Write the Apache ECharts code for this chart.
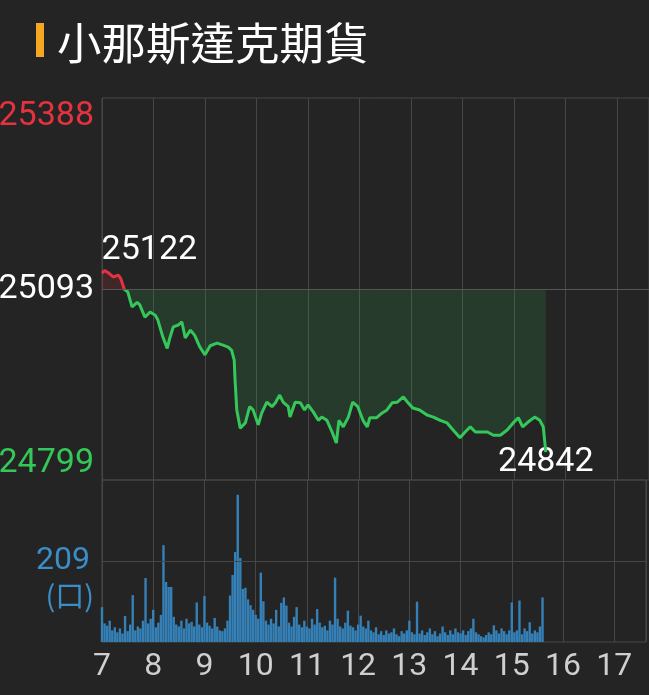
<!DOCTYPE html>
<html><head><meta charset="utf-8">
<script src="https://cdn.jsdelivr.net/npm/echarts@6/dist/echarts.min.js"></script>
<style>html,body{margin:0;padding:0;background:#242424;}#c{width:649px;height:695px;}</style>
</head><body><div id="c"></div><script>
// ---- data ----
const titleText = '小那斯達克期貨';
const prevClose = 25093;
const priceAxisMax = 25388;
const priceAxisMin = 24799;
const volAxisMax = 418;
const volMidLabel = 209;
const volUnit = '(口)';
const hourStart = 7;
const hourEnd = 17.62;
// minutes after 07:00
const priceMinutes = [0,3,8,13,19,22,26,30,35,41,44,50,56,62,65,71,76,79,83,89,93,97,103,108,114,120,126,134,141,147,151,154,155,157,161,163,167,172,176,182,186,192,198,202,207,211,217,219,225,231,236,240,246,252,256,262,268,273,276,281,287,292,298,304,309,312,320,326,332,338,344,351,356,362,370,379,386,394,402,409,417,423,429,435,440,449,456,464,472,479,485,490,496,504,510,514,517];
const prices = [25118,25122,25118,25112,25115,25109,25093,25089,25066,25073,25069,25050,25058,25053,25046,25019,25002,25018,25035,25038,25043,25018,25030,25022,25004,24992,25006,25010,25007,25004,24999,24984,24953,24907,24879,24876,24887,24912,24907,24884,24902,24919,24912,24918,24930,24919,24912,24896,24919,24918,24907,24915,24904,24891,24896,24891,24873,24856,24891,24881,24896,24919,24912,24891,24881,24895,24895,24902,24907,24918,24919,24927,24919,24910,24907,24899,24896,24891,24887,24876,24864,24873,24881,24873,24873,24873,24868,24868,24876,24887,24895,24881,24888,24896,24891,24881,24842];
// volume per 3-minute bucket starting 07:00
const volStepMinutes = 3;
const volumes = [
90,48,42,55,30,38,25,35,22,67,
28,45,121,30,40,35,55,165,48,60,
83,38,50,70,250,155,142,142,65,45,
40,55,35,60,48,52,40,102,45,38,
119,50,42,35,62,40,30,28,35,55,
120,173,232,380,217,137,140,110,95,83,
70,60,179,105,55,45,60,48,83,40,
101,115,94,50,40,65,90,45,38,55,
40,35,60,45,85,50,38,42,30,55,
45,166,60,40,35,50,81,42,38,30,
45,68,40,35,55,30,25,38,20,28,
18,30,22,25,35,20,15,28,22,30,
55,25,20,104,22,30,18,25,35,20,
28,15,22,40,25,18,30,20,35,25,
22,30,18,28,35,60,25,20,15,12,
18,25,20,43,30,22,35,28,20,30,
102,25,30,107,20,35,28,51,22,30,
25,40,115];

// ---- build ----
const priceData = priceMinutes.map((m, i) => [hourStart + m / 60, prices[i]]);
const volData = volumes.map((v, i) => [hourStart + i * volStepMinutes / 60, v]);

const RED = '#e5323f', GREEN = '#34c759', BLUE = '#3a8ec8';
const GRIDC = '#464646';
const numFont = 'Roboto, "Noto Sans", sans-serif';

const chart = echarts.init(document.getElementById('c'), null, {renderer: 'canvas'});
const xAxisBase = {
  type: 'value', min: hourStart, max: hourEnd, interval: 1,
  axisLine: {show: false}, axisTick: {show: false},
  splitLine: {show: true, lineStyle: {color: GRIDC, width: 1}}
};
chart.setOption({
  backgroundColor: '#242424',
  animation: false,
  grid: [
    {left: 102, top: 98, width: 548, height: 382, show: true, borderColor: GRIDC, borderWidth: 1, backgroundColor: 'transparent'},
    {left: 102, top: 480, width: 548, height: 162, show: true, borderColor: GRIDC, borderWidth: 1, backgroundColor: 'transparent'}
  ],
  xAxis: [
    Object.assign({}, xAxisBase, {gridIndex: 0, axisLabel: {show: false}}),
    Object.assign({}, xAxisBase, {gridIndex: 1, axisLabel: {show: true, color: '#cfcfcf', fontSize: 32, fontFamily: numFont, margin: 9,
      formatter: v => Number.isInteger(v) ? String(v) : ''}})
  ],
  yAxis: [
    {type: 'value', gridIndex: 0, min: priceAxisMin, max: priceAxisMax, axisLabel: {show: false}, axisLine: {show: false}, axisTick: {show: false}, splitLine: {show: false}},
    {type: 'value', gridIndex: 1, min: 0, max: volAxisMax, axisLabel: {show: false}, axisLine: {show: false}, axisTick: {show: false}, splitLine: {show: false}}
  ]
});

const px = (x, y) => chart.convertToPixel({xAxisIndex: 0, yAxisIndex: 0}, [x, y]);
const pv = (x, y) => chart.convertToPixel({xAxisIndex: 1, yAxisIndex: 1}, [x, y]);
const yTop = px(hourStart, priceAxisMax)[1];
const yBot = px(hourStart, priceAxisMin)[1];
const yPrev = px(hourStart, prevClose)[1];
const f = (yPrev - yTop) / (yBot - yTop);
const mkGrad = (a, b) => new echarts.graphic.LinearGradient(0, yTop, 0, yBot, [
  {offset: 0, color: a}, {offset: f, color: a}, {offset: f, color: b}, {offset: 1, color: b}
], true);

chart.setOption({
  series: [
    {
      type: 'line', xAxisIndex: 0, yAxisIndex: 0, data: priceData,
      showSymbol: false, symbol: 'none',
      lineStyle: {width: 3, color: mkGrad(RED, GREEN)},
      areaStyle: {origin: prevClose, color: mkGrad('rgba(229,50,63,0.22)', 'rgba(52,199,89,0.2)')},
      markLine: {silent: true, symbol: 'none', label: {show: false},
        lineStyle: {color: '#565656', type: 'solid', width: 1},
        data: [{yAxis: prevClose}]}
    },
    {
      type: 'bar', xAxisIndex: 1, yAxisIndex: 1, data: volData,
      barWidth: 2.4, itemStyle: {color: '#3580b6'},
      markLine: {silent: true, symbol: 'none', label: {show: false},
        lineStyle: {color: GRIDC, type: 'solid', width: 1},
        data: [{yAxis: volMidLabel}]}
    }
  ]
});

// labels
const yVolMid = pv(hourStart, volMidLabel)[1];
let hiIdx = 0;
prices.forEach((p, i) => { if (p > prices[hiIdx]) hiIdx = i; });
const hiPt = px(priceData[hiIdx][0], prices[hiIdx]);
const lastPt = px(priceData[priceData.length - 1][0], prices[prices.length - 1]);
const txt = (text, x, y, color, align, size, font) => ({
  type: 'text', x: x, y: y,
  style: {text: text, fill: color, font: (size || 34) + 'px ' + (font || numFont), align: align || 'right', verticalAlign: 'middle'}
});
chart.setOption({
  graphic: [
    {type: 'rect', shape: {x: 36, y: 23, width: 8, height: 34}, style: {fill: '#f5a623'}},
    txt(titleText, 57, 43, '#ffffff', 'left', 44.5, '"Noto Sans CJK TC", sans-serif'),
    txt(String(priceAxisMax), 94, yTop + 18, RED),
    txt(String(prevClose), 94, yPrev, '#ffffff'),
    txt(String(priceAxisMin), 94, yBot - 17, GREEN),
    txt(String(prices[hiIdx]), hiPt[0] - 3, hiPt[1] - 20, '#ffffff', 'left'),
    txt(String(prices[prices.length - 1]), lastPt[0], lastPt[1] + 10, '#ffffff', 'center'),
    txt(String(volMidLabel), 90, yVolMid, BLUE, 'right', 32),
    txt(volUnit, 94, yVolMid + 35, BLUE, 'right', 29, '"Noto Sans CJK TC", sans-serif')
  ]
});
</script></body></html>
